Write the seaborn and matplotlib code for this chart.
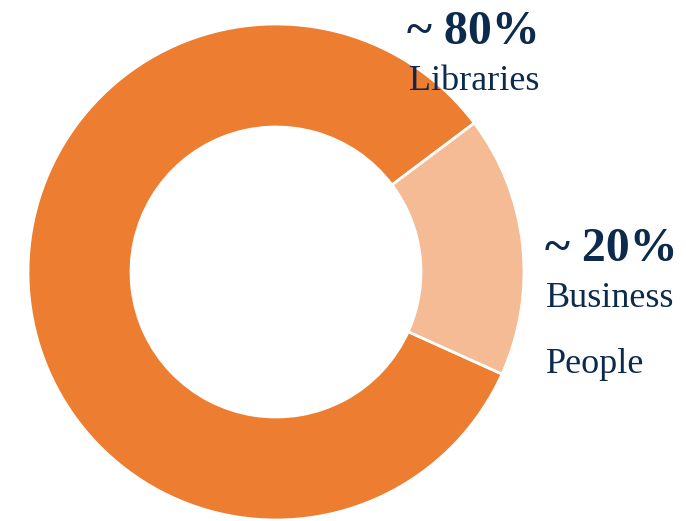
import matplotlib
matplotlib.use("Agg")
import matplotlib.pyplot as plt
import seaborn as sns

# Share of users by segment
segments = ["Libraries", "Business People"]
shares = [83, 17]
colors = ["#ED7D31", "#F5BB95"]

pct_labels = ["~ 80%", "~ 20%"]
name_labels = [["Libraries"], ["Business", "People"]]

sns.set_theme(style="white")
plt.rcParams["font.family"] = ["Liberation Serif", "DejaVu Serif"]

W, H = 686, 521
fig = plt.figure(figsize=(W / 100, H / 100), dpi=100)
fig.patch.set_facecolor("white")

# donut centred at (276, 272) px with outer radius 248 px
cx, cy, r = 276, 272, 248
ax = fig.add_axes([(cx - r) / W, (H - cy - r) / H, 2 * r / W, 2 * r / H])
ax.pie(
    shares,
    colors=colors,
    startangle=36.9,
    counterclock=True,
    radius=1.0,
    wedgeprops=dict(width=1 - 145 / 248, edgecolor="white", linewidth=2),
)
ax.set_xlim(-1, 1)
ax.set_ylim(-1, 1)
ax.set_aspect("equal")
ax.axis("off")

navy = "#0B2A4E"

def put(x, y, s, size, weight="normal"):
    fig.text(x / W, 1 - y / H, s, fontsize=size, fontweight=weight,
             color=navy, ha="left", va="baseline")

# Libraries label
put(407, 44, pct_labels[0], 34.5, "bold")
put(409, 90, name_labels[0][0], 26)

# Business People label
put(545, 261, pct_labels[1], 34.5, "bold")
put(546, 307, name_labels[1][0], 26)
put(546, 373, name_labels[1][1], 26)

fig.savefig("out.png", dpi=100, facecolor="white")
